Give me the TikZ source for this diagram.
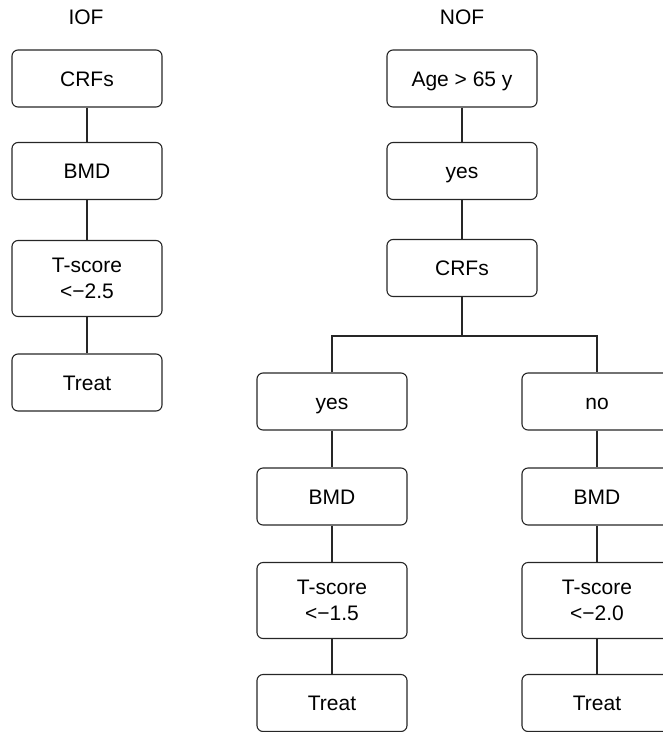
\documentclass[tikz,border=0pt]{standalone}
\usepackage{fontspec}
\setmainfont{Liberation Sans}
\begin{document}
\begin{tikzpicture}[x=1pt,y=-1pt,
  box/.style={draw=black!85,line width=1.1pt,rounded corners=6pt,minimum width=150pt,minimum height=57pt,inner sep=0pt,align=center,font=\fontsize{21}{26}\selectfont,text height=15pt,text depth=0pt},
  tall/.style={box,minimum height=76pt,text height=,text depth=},
  ttl/.style={font=\fontsize{21}{25}\selectfont},
  link/.style={draw=black!85,line width=1.1pt}]
\useasboundingbox (0,0) rectangle (663,732);
\clip (0,0) rectangle (663,732);
% IOF
\node[ttl] (iof) at (86,17) {IOF};
\node[box] (icrf) at (87,78.5) {CRFs};
\node[box] (ibmd) at (87,171) {BMD};
\node[tall] (its) at (87,278.5) {T-score\\<−2.5};
\node[box] (itr) at (87,382.5) {Treat};
\draw[link] (icrf) -- (ibmd);
\draw[link] (ibmd) -- (its);
\draw[link] (its) -- (itr);
% NOF
\node[ttl] (nof) at (462,17) {NOF};
\node[box] (nage) at (462,78.5) {Age > 65 y};
\node[box] (nyes) at (462,171) {yes};
\node[box] (ncrf) at (462,268) {CRFs};
\draw[link] (nage) -- (nyes);
\draw[link] (nyes) -- (ncrf);
\coordinate (br) at (462,336);
% left branch
\node[box] (lyes) at (332,401.5) {yes};
\node[box] (lbmd) at (332,496.5) {BMD};
\node[tall] (lts) at (332,600.5) {T-score\\<−1.5};
\node[box] (ltr) at (332,703) {Treat};
% right branch
\node[box] (rno) at (597,401.5) {no};
\node[box] (rbmd) at (597,496.5) {BMD};
\node[tall] (rts) at (597,600.5) {T-score\\<−2.0};
\node[box] (rtr) at (597,703) {Treat};
\draw[link] (ncrf) -- (br);
\draw[link] (lyes.north) |- (br) -| (rno.north);
\draw[link] (lyes) -- (lbmd);
\draw[link] (lbmd) -- (lts);
\draw[link] (lts) -- (ltr);
\draw[link] (rno) -- (rbmd);
\draw[link] (rbmd) -- (rts);
\draw[link] (rts) -- (rtr);
\end{tikzpicture}
\end{document}
